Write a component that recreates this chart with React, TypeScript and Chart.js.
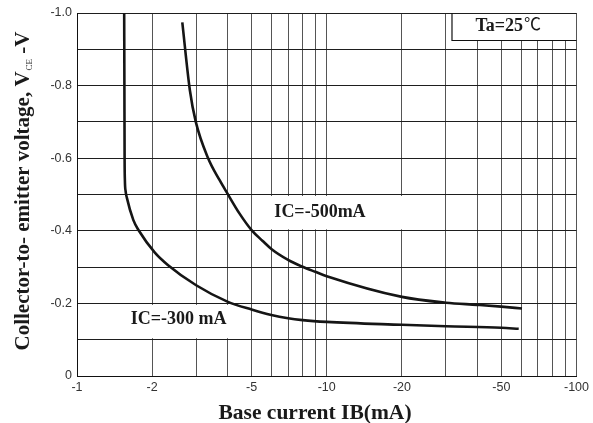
import React, { useEffect, useRef } from "react";
import { Chart, registerables } from "chart.js";

Chart.register(...registerables);

// IC = -300 mA : base current IB (mA) and collector-emitter voltage VCE (V)
const ib300 = [-1.545, -1.548, -1.551, -1.555, -1.565, -1.585, -1.68, -1.77, -2.05, -2.31, -3.0, -4.0, -5.0, -6.0, -7.0, -8.0, -10, -20, -30, -50, -58.7];
const vce300 = [-1.0, -0.8, -0.6, -0.54, -0.51, -0.49, -0.43, -0.4, -0.34, -0.306, -0.25, -0.205, -0.183, -0.168, -0.159, -0.154, -0.149, -0.141, -0.137, -0.133, -0.13];

// IC = -500 mA
const ib500 = [-2.64, -2.83, -2.99, -3.35, -3.72, -4.0, -4.47, -5.0, -5.54, -6.0, -7.0, -8.0, -9.0, -10, -20, -30, -40, -50, -60.5];
const vce500 = [-0.974, -0.788, -0.7, -0.6, -0.54, -0.503, -0.448, -0.402, -0.372, -0.35, -0.32, -0.301, -0.287, -0.275, -0.218, -0.202, -0.196, -0.191, -0.186];

// axis ticks (x plotted as |IB| on a log scale)
const xTickValues = [1, 2, 3, 4, 5, 6, 7, 8, 9, 10, 20, 30, 40, 50, 60, 70, 80, 90, 100];
const xTickLabels = ["-1", "-2", "", "", "-5", "", "", "", "", "-10", "-20", "", "", "-50", "", "", "", "", "-100"];
const yTickValues = [-1.0, -0.9, -0.8, -0.7, -0.6, -0.5, -0.4, -0.3, -0.2, -0.1, 0];
const yTickLabels = ["-1.0", "", "-0.8", "", "-0.6", "", "-0.4", "", "-0.2", "", "0"];

const label300 = "IC=-300 mA";
const label500 = "IC=-500mA";
const tempText = "Ta=25";
const tempUnit = "\u2103";
const xTitle = "Base current IB(mA)";
const yTitleMain = "Collector-to- emitter voltage, V";
const yTitleSub = "CE";
const yTitleEnd = " -V";

const SERIF = "'Liberation Serif', 'Times New Roman', serif";
const SANS = "'Liberation Sans', Arial, sans-serif";

const annotations = {
  id: "annotations",
  beforeDatasetsDraw(chart: any) {
    const { ctx, chartArea, scales } = chart;
    const x = scales.x;
    const y = scales.y;
    ctx.save();
    ctx.fillStyle = "#ffffff";
    // white boxes behind curve labels (between grid rows)
    const box = (x0: number, x1: number, v0: number, v1: number) => {
      const px0 = x.getPixelForValue(x0);
      const px1 = x.getPixelForValue(x1);
      const py0 = y.getPixelForValue(v0) + 1.5;
      const py1 = y.getPixelForValue(v1) - 1.5;
      ctx.fillRect(px0, py0, px1 - px0, py1 - py0);
    };
    box(1.58, 4.39, -0.2, -0.1);
    box(5.49, 21.3, -0.5, -0.4);
    // temperature box
    const bw = 125;
    const bh = 27;
    const bx = chartArea.right - bw;
    const by = chartArea.top;
    ctx.fillRect(bx, by + 1, bw - 1, bh - 1);
    ctx.strokeStyle = "#111";
    ctx.lineWidth = 1.2;
    ctx.beginPath();
    ctx.moveTo(bx + 0.5, by);
    ctx.lineTo(bx + 0.5, by + bh + 0.5);
    ctx.lineTo(chartArea.right, by + bh + 0.5);
    ctx.stroke();
    ctx.restore();
  },
  afterDatasetsDraw(chart: any) {
    const { ctx, chartArea, scales } = chart;
    const x = scales.x;
    const y = scales.y;
    ctx.save();
    ctx.fillStyle = "#1a1a1a";
    ctx.textBaseline = "middle";
    ctx.textAlign = "left";
    ctx.font = `bold 18px ${SERIF}`;
    ctx.fillText(label300, x.getPixelForValue(1.643), y.getPixelForValue(-0.155));
    ctx.fillText(label500, x.getPixelForValue(6.17), y.getPixelForValue(-0.45));
    // temperature
    const tx = chartArea.right - 101;
    const ty = chartArea.top + 13;
    ctx.font = `bold 18px ${SERIF}`;
    ctx.fillText(tempText, tx, ty);
    const tw = ctx.measureText(tempText).width;
    ctx.font = `17px ${SERIF}, 'Noto Sans CJK SC'`;
    ctx.fillText(tempUnit, tx + tw + 1, ty);
    ctx.restore();
  },
  afterDraw(chart: any) {
    const { ctx } = chart;
    ctx.save();
    ctx.fillStyle = "#1a1a1a";
    // x title
    ctx.font = `bold 21.5px ${SERIF}`;
    ctx.textAlign = "center";
    ctx.textBaseline = "alphabetic";
    ctx.fillText(xTitle, 315, 419);
    // y title (rotated, with subscript)
    ctx.translate(29, 191);
    ctx.rotate(-Math.PI / 2);
    ctx.textAlign = "left";
    const mainFont = `bold 21px ${SERIF}`;
    const subFont = `9px ${SERIF}`;
    ctx.font = mainFont;
    const w1 = ctx.measureText(yTitleMain).width;
    const w3 = ctx.measureText(yTitleEnd).width;
    ctx.font = subFont;
    const w2 = ctx.measureText(yTitleSub).width + 1;
    let cx = -(w1 + w2 + w3) / 2;
    ctx.font = mainFont;
    ctx.fillText(yTitleMain, cx, 0);
    cx += w1;
    ctx.font = subFont;
    ctx.fillText(yTitleSub, cx + 1, 3);
    cx += w2;
    ctx.font = mainFont;
    ctx.fillText(yTitleEnd, cx, 0);
    ctx.restore();
  },
};

export default function App() {
  const canvasRef = useRef<HTMLCanvasElement | null>(null);

  useEffect(() => {
    const canvas = canvasRef.current;
    if (!canvas) return;
    const toPoints = (xs: number[], ys: number[]) => xs.map((v, i) => ({ x: Math.abs(v), y: ys[i] }));
    const curveStyle = {
      borderColor: "#151515",
      borderWidth: 2.6,
      pointRadius: 0,
      cubicInterpolationMode: "monotone",
      fill: false,
    };
    const chart = new Chart(canvas, {
      type: "line",
      data: {
        datasets: [
          { label: label300, data: toPoints(ib300, vce300), ...curveStyle },
          { label: label500, data: toPoints(ib500, vce500), ...curveStyle },
        ],
      },
      options: {
        responsive: false,
        animation: false,
        devicePixelRatio: 1,
        layout: { padding: { top: 13, right: 15, left: 0, bottom: 0 } },
        plugins: { legend: { display: false }, tooltip: { enabled: false } },
        scales: {
          x: {
            type: "logarithmic",
            min: 1,
            max: 100,
            afterBuildTicks: (axis: any) => {
              axis.ticks = xTickValues.map((v) => ({ value: v }));
            },
            afterFit: (s: any) => {
              s.height = 47;
            },
            grid: { color: "#555", lineWidth: 1, drawTicks: false },
            border: { display: true, color: "#111", width: 1 },
            ticks: {
              autoSkip: false,
              maxRotation: 0,
              minRotation: 0,
              padding: 4,
              color: "#333",
              font: { family: SANS, size: 12.5 },
              callback: (_v: any, i: number) => xTickLabels[i],
            },
          },
          y: {
            type: "linear",
            min: -1,
            max: 0,
            reverse: true,
            afterBuildTicks: (axis: any) => {
              axis.ticks = yTickValues.map((v) => ({ value: v }));
            },
            afterFit: (s: any) => {
              s.width = 77;
            },
            grid: { color: "#1e1e1e", lineWidth: 1, drawTicks: false },
            border: { display: true, color: "#111", width: 1 },
            ticks: {
              padding: 5,
              color: "#333",
              font: { family: SANS, size: 12.5 },
              callback: (_v: any, i: number) => yTickLabels[i],
            },
          },
        },
      },
      plugins: [annotations],
    } as any);
    return () => chart.destroy();
  }, []);

  return (
    <div style={{ position: "absolute", left: 0, top: 0, width: 593, height: 423, background: "#fff" }}>
      <canvas ref={canvasRef} width={593} height={423} />
    </div>
  );
}
